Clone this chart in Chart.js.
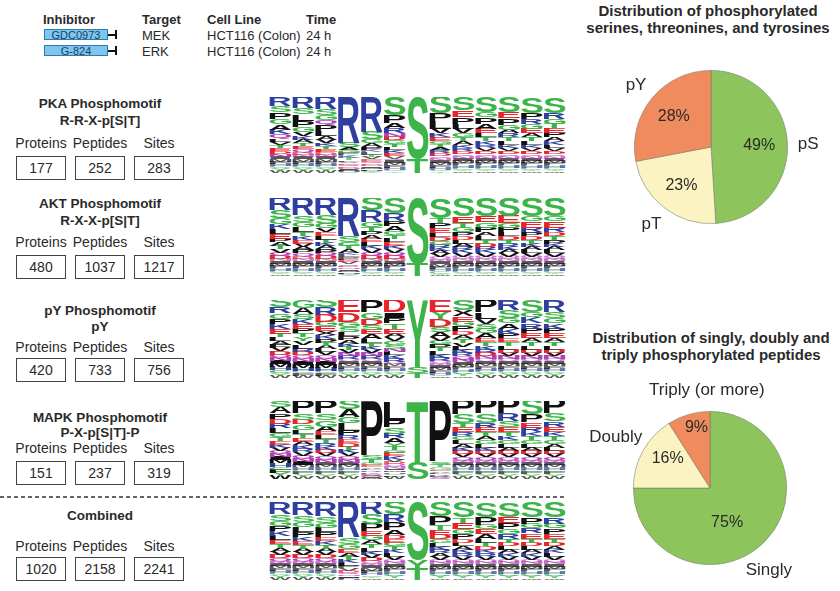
<!DOCTYPE html>
<html>
<head>
<meta charset="utf-8">
<script src="https://cdn.jsdelivr.net/npm/chart.js@4.4.1/dist/chart.umd.min.js"></script>
<style>
body { margin:0; background:#fff; font-family:"Liberation Sans", Arial, sans-serif; color:#2a2a2a; }
#page { position:relative; width:840px; height:591px; overflow:hidden; }
.t { position:absolute; white-space:nowrap; line-height:1; }
.b { font-weight:bold; }
.c { transform:translate(-50%,-50%); }
.l { transform:translate(0,-50%); }
.box { position:absolute; border:1.3px solid #444; box-sizing:border-box; height:24px; font-size:14px; text-align:center; line-height:22px; }
.inh { position:absolute; left:44px; width:64px; height:11px; background:#7ec6ee; border:1px solid #2a7ab5; box-sizing:border-box; font-size:11px; line-height:10px; text-align:center; color:#1f3f5f; }
canvas { position:absolute; }
</style>
</head>
<body>
<div id="page"></div>
<script>
// header table
const inhibitors = ['GDC0973', 'G-824'];
const targets = ['MEK', 'ERK'];
const cellLines = ['HCT116 (Colon)', 'HCT116 (Colon)'];
const times = ['24 h', '24 h'];

// motif panels
const motifNames = ['PKA Phosphomotif', 'AKT Phosphomotif', 'pY Phosphomotif', 'MAPK Phosphomotif', 'Combined'];
const motifPatterns = ['R-R-X-p[S|T]', 'R-X-X-p[S|T]', 'pY', 'P-X-p[S|T]-P', ''];
const proteins = [177, 480, 420, 151, 1020];
const peptides = [252, 1037, 733, 237, 2158];
const sites = [283, 1217, 756, 319, 2241];

// pies
const residueLabels = ['pS', 'pT', 'pY'];
const residueShare = [49, 23, 28];
const multLabels = ['Singly', 'Doubly', 'Triply (or more)'];
const multShare = [75, 16, 9];

// sequence logos, positions -6..+6, letters top to bottom with height in %
const logoPositions = ['-6', '-5', '-4', '-3', '-2', '-1', '0', '+1', '+2', '+3', '+4', '+5', '+6'];
const pkaLogo = [
  'R12 S8 P9 G7 A7 K6 Q6 L4 V4 T4 E4 D4 N4 I3 M3 F3 H3 C3 Y3 W3',
  'R15 S8 L9 P8 G6 V5 K5 A5 T4 E4 Q4 D3 N3 I3 M3 F3 H3 C3 Y3 W3',
  'R16 S8 G7 Q6 P8 L6 A5 V5 K4 T4 E4 D3 N3 I3 M3 F3 H3 C3 Y3 W3',
  'R60 S6 A4 G4 P3 K3 T3 L2 V2 E2 Q2 D2 N2 I1 M1 F1 H1 C1',
  'R46 S10 G5 A5 P4 K3 L3 T3 V3 E3 Q2 D2 N2 I2 M2 F2 H1 C1 Y1',
  'S24 P10 A7 R6 N5 D5 G5 T4 L4 K4 E4 V3 Q3 I3 M3 F3 H3 C2 Y2',
  'S82 T18',
  'S22 P10 L10 V6 K5 E5 G4 T4 A4 R4 D4 Q3 N3 I3 M3 F3 H3 C2 Y2',
  'S18 E8 P9 L7 V6 G5 T5 A5 K4 R4 D4 Q3 N3 I3 M3 F3 H3 C3 Y2 W2',
  'S20 G6 P9 A7 E6 L5 T5 K5 R4 V4 D4 Q3 N3 I3 M3 F3 H3 C3 Y2 W2',
  'S20 E8 P9 G6 A5 R5 T5 L5 K4 V4 D4 Q3 N3 I3 M3 F3 H3 C3 Y2 W2',
  'S21 P8 R7 G6 E6 A5 T5 L5 K4 V4 D4 Q3 N3 I3 M3 F3 H3 C3 Y2 W2',
  'S21 R8 G6 T6 E6 P6 A5 K5 L4 V4 D4 Q3 N3 I3 M3 F3 H3 C3 Y2 W2'
];
const aktLogo = [
  'R16 S10 G8 K6 L6 E6 P5 A5 T4 V4 Q4 D4 N3 I3 M3 F3 H3 C3 Y2 W2',
  'R22 S9 G6 L7 T5 K5 E5 V4 A4 P4 Q4 D3 N3 I3 M3 F3 H3 C3 Y2 W2',
  'R22 S11 G6 V5 E5 L5 T4 K4 A4 P4 Q4 D4 N3 I3 M3 F3 H3 C3 Y2 W2',
  'R49 S8 G5 T4 A4 K3 L3 P3 E3 V3 Q2 D2 N2 I2 M2 F2 H1 C1 Y1',
  'S16 R15 G6 T5 P5 A5 E5 L5 K4 V4 Q4 D4 N3 I3 M3 F3 H3 C3 Y2 W2',
  'S20 R10 P6 A6 G5 T5 L5 E5 K4 V4 Q4 D4 N3 I3 M3 F3 H3 C3 Y2 W2',
  'S84 T16',
  'S26 T6 P7 E6 L5 D5 G5 R4 K4 A4 V4 Q3 N3 I3 M3 F3 H3 C3 Y2 W1',
  'S24 E8 T6 G6 P5 D5 L5 A4 R4 K4 V4 Q3 N3 I3 M3 F3 H3 C3 Y2 W2',
  'S23 E8 G7 P6 A5 L5 T5 D4 R4 K4 V4 Q3 N3 I3 M3 F3 H3 C3 Y2 W2',
  'S23 E9 G6 P6 L5 D5 T5 R4 K4 A4 V4 Q3 N3 I3 M3 F3 H3 C3 Y2 W2',
  'S23 G7 E8 R6 P5 D5 T5 K4 A4 L4 V4 Q3 N3 I3 M3 F3 H3 C3 Y2 W2',
  'S23 G7 E8 R6 D5 T5 P5 K4 A4 L4 V4 Q3 N3 I3 M3 F3 H3 C3 Y2 W2'
];
const pyLogo = [
  'S13 R8 G7 P7 K6 E6 T5 L5 A5 F4 V4 D4 Q4 N4 I4 M4 H4 C4 Y3 W3',
  'G10 A8 S7 K6 E6 P6 T5 Y5 V5 L5 R4 D4 Q4 N4 I4 M4 H4 C3 F3 W3',
  'S13 R10 D9 G6 E6 X5 K5 P5 T4 A4 L4 V4 Q4 N4 I4 M4 H4 C3 F3 W3',
  'E16 D12 G7 S6 L5 P5 A5 K4 T4 V4 N4 R4 Q3 I3 M3 F3 H3 C3 Y3 W3',
  'P15 G9 D8 S6 E6 A6 L5 T5 K4 V4 N4 R4 Q3 I3 M3 F3 H3 C3 Y3 W3',
  'D16 I7 P7 T7 E6 A5 V5 G5 S5 N4 L4 K4 R4 Q3 M3 F3 H3 C3 Y3 W3',
  'Y86 S8 T6',
  'E15 Y9 D10 S7 A6 V5 G5 P5 T4 L4 K4 R4 Q3 N3 I3 M3 F3 H3 C2 W2',
  'S13 X8 E7 G6 P6 D5 A5 T5 V5 L4 K4 R4 Q4 N4 I3 M3 F3 H3 C3 Y3 W2',
  'P16 L8 V7 S6 G6 A6 E5 T5 K5 R4 D4 N4 Q3 I3 M3 F3 H3 C3 Y3 W3',
  'R13 S10 G7 A7 K6 P6 E5 T5 L5 D4 V4 N4 Q3 I3 M3 F3 H3 C3 Y3 W3',
  'S15 G7 K8 R7 P6 E6 A5 T5 L5 D4 V4 N4 Q3 I3 M3 F3 H3 C3 Y3 W3',
  'R15 S8 G7 K7 P6 E6 A5 T5 L5 D4 V4 N4 Q3 I3 M3 F3 H3 C3 Y3 W3'
];
const mapkLogo = [
  'S8 A8 P7 D6 R6 L6 G5 T5 E5 K4 V4 Q4 N4 I4 M4 H4 C4 F4 Y4 W4',
  'P16 S8 D6 G7 L5 T5 E5 A5 K5 R4 V4 Q4 N4 I4 M3 H3 C3 F3 Y3 W3',
  'P16 S9 G8 A6 E5 L5 T5 R5 K4 D4 V4 Q4 N4 I3 M3 H3 C3 F3 Y3 W3',
  'S11 A9 G8 L10 P6 R5 E5 D5 T4 K4 V4 Q4 N4 I3 M3 H3 C3 F3 Y3 W3',
  'P70 S5 T4 G3 E3 A2 L2 R2 K2 D2 V1 Q1 N1 I1 M1',
  'L25 P9 S8 R6 A6 Y5 T4 G4 E4 K4 V3 D3 Q3 N3 I2 M2 H2 C2 F2 W3',
  'T78 S22',
  'P78 S4 T3 G3 E2 A2 L2 R2 K1 D1 V1 Q1',
  'P20 S11 T6 E6 R5 G5 L5 A5 K4 D4 V4 Q4 N3 I3 M3 H3 C3 F3 Y3 W3',
  'P19 S12 R6 E6 T5 A5 G5 L5 K4 D4 V4 Q4 N3 I3 M3 H3 C3 F3 Y3 W3',
  'P19 R9 S9 E6 T5 K5 G5 L5 A4 D4 V4 Q4 N3 I3 M3 H3 C3 F3 Y3 W3',
  'S20 P10 E7 R6 K5 T5 G5 L5 A4 D4 V4 Q4 N3 I3 M3 H3 C3 F3 Y3 W3',
  'P19 S10 R7 E7 K5 T5 G5 A5 L4 D4 V4 Q4 N3 I3 M3 H3 C3 F3 Y3 W3'
];
const combinedLogo = [
  'R15 S9 G7 P6 K6 L6 E5 T5 A5 V4 D4 Q4 N3 I3 M3 F3 H3 C3 Y3 W3',
  'R17 S9 G6 L7 P6 K5 E5 T5 A4 V4 D4 Q4 N3 I3 M3 F3 H3 C3 Y3 W3',
  'R18 S9 G6 L6 P6 E5 K5 T5 A4 V4 D4 Q4 N3 I3 M3 F3 H3 C3 Y3 W3',
  'R45 S9 G6 E5 A5 T4 K4 L4 P3 V3 D3 Q2 N2 I2 M1 F1 H1',
  'R18 S13 P9 E6 G6 A5 T5 L5 K4 V4 D4 Q3 N3 I3 M3 F3 H3 C2 Y2 W2',
  'S16 R10 P10 A6 D5 E5 G5 T5 K4 L4 V4 Q3 N3 I3 M3 F3 H3 C3 Y3 W2',
  'S74 Y12 T14',
  'S18 P12 T6 E6 D6 G5 L5 K4 R4 A4 V4 Q3 N3 I3 M3 F3 H3 C3 Y3 W2',
  'S20 T7 E8 G6 P6 D5 L5 A5 K4 R4 V4 Q3 N3 I3 M3 F3 H3 C3 Y3 W2',
  'S19 P10 G6 E6 A6 L5 T5 D5 K4 R4 V4 Q3 N3 I3 M3 F3 H3 C3 Y3 W2',
  'S19 E8 P8 G6 R6 T5 D5 L5 A4 K4 V4 Q3 N3 I3 M3 F3 H3 C3 Y3 W2',
  'S20 P8 G6 R6 E7 T5 D5 L5 A4 K4 V4 Q3 N3 I3 M3 F3 H3 C3 Y3 W2',
  'S20 R8 G6 P7 E6 T5 D5 A5 K4 L4 V4 Q3 N3 I3 M3 F3 H3 C3 Y3 W2'
];

const letterColors = {
  G: '#3cb44a', S: '#3cb44a', T: '#3cb44a', Y: '#3cb44a', C: '#3cb44a',
  K: '#2f3f9f', R: '#2f3f9f', H: '#2f3f9f',
  D: '#e6242b', E: '#e6242b',
  N: '#b23fb5', Q: '#b23fb5'
};
const pieColors = ['#8dc55c', '#fbf4c2', '#f08b5d'];

const page = document.getElementById('page');
function txt(s, x, y, cls, size) {
  const d = document.createElement('div');
  d.className = 't ' + cls;
  d.style.left = x + 'px';
  d.style.top = y + 'px';
  d.style.fontSize = size + 'px';
  d.textContent = s;
  page.appendChild(d);
  return d;
}

// header
txt('Inhibitor', 43, 19, 'b l', 13);
txt('Target', 142, 19, 'b l', 13);
txt('Cell Line', 207, 19, 'b l', 13);
txt('Time', 306, 19, 'b l', 13);
inhibitors.forEach((name, i) => {
  const y = 35 + i * 16;
  const b = document.createElement('div');
  b.className = 'inh';
  b.style.top = (y - 6) + 'px';
  b.textContent = name;
  page.appendChild(b);
  const ln = document.createElement('div');
  ln.style.cssText = 'position:absolute;left:108px;top:' + (y - 1) + 'px;width:7px;height:1.6px;background:#111';
  page.appendChild(ln);
  const bar = document.createElement('div');
  bar.style.cssText = 'position:absolute;left:115px;top:' + (y - 5) + 'px;width:2px;height:9px;background:#111';
  page.appendChild(bar);
  txt(targets[i], 142, y, 'l', 13);
  txt(cellLines[i], 207, y, 'l', 13);
  txt(times[i], 306, y, 'l', 13);
});

// motif panels
const titleY = [104, 204, 311, 418, 516];
const patternY = [121, 221, 327, 433, 0];
const labelY = [143, 242, 347, 448, 546];
const boxTop = [156, 255, 358, 461, 557];
const boxX = [16, 75, 134];
motifNames.forEach((name, i) => {
  txt(name, 100, titleY[i], 'b c', 13.5);
  if (motifPatterns[i]) txt(motifPatterns[i], 100, patternY[i], 'b c', 13.5);
  ['Proteins', 'Peptides', 'Sites'].forEach((lab, k) => txt(lab, boxX[k] + 25, labelY[i], 'c', 14));
  [proteins[i], peptides[i], sites[i]].forEach((v, k) => {
    const b = document.createElement('div');
    b.className = 'box';
    b.style.left = boxX[k] + 'px';
    b.style.top = boxTop[i] + 'px';
    b.style.width = '50px';
    b.textContent = v;
    page.appendChild(b);
  });
});
const dash = document.createElement('div');
dash.style.cssText = 'position:absolute;left:0;top:496px;width:566px;height:1.5px;background:repeating-linear-gradient(to right,#666 0 4px,transparent 4px 7px)';
page.appendChild(dash);

// pie titles
txt('Distribution of phosphorylated', 708, 10, 'b c', 15);
txt('serines, threonines, and tyrosines', 708, 27, 'b c', 15);
txt('Distribution of singly, doubly and', 711, 337, 'b c', 15);
txt('triply phosphorylated peptides', 711, 354, 'b c', 15);

function addCanvas(x, y, w, h) {
  const c = document.createElement('canvas');
  c.width = w; c.height = h;
  c.style.left = x + 'px'; c.style.top = y + 'px';
  c.style.width = w + 'px'; c.style.height = h + 'px';
  page.appendChild(c);
  return c;
}

// letter glyph stretched into each stacked bar
const glyphCache = {};
function glyph(ctx, ch) {
  if (!glyphCache[ch]) {
    ctx.font = 'bold 100px "Liberation Sans", Arial, sans-serif';
    const m = ctx.measureText(ch);
    glyphCache[ch] = { l: m.actualBoundingBoxLeft, r: m.actualBoundingBoxRight, a: m.actualBoundingBoxAscent, d: m.actualBoundingBoxDescent };
  }
  return glyphCache[ch];
}
const logoLetters = {
  id: 'logoLetters',
  afterDatasetsDraw(chart) {
    const ctx = chart.ctx;
    chart.data.datasets.forEach((ds, i) => {
      chart.getDatasetMeta(i).data.forEach((bar, j) => {
        const ch = ds.letters[j];
        if (!ch) return;
        const p = bar.getProps(['x', 'y', 'base', 'width'], true);
        const top = Math.min(p.y, p.base), h = Math.abs(p.base - p.y);
        if (h < 0.3) return;
        ctx.save();
        const g = glyph(ctx, ch);
        const sx = p.width / (g.l + g.r), sy = h / (g.a + g.d);
        ctx.font = 'bold 100px "Liberation Sans", Arial, sans-serif';
        ctx.fillStyle = letterColors[ch] || '#111';
        // tiny letters look washed out in the original
        if (h < 2.6) ctx.globalAlpha = 0.7;
        ctx.textAlign = 'left';
        ctx.textBaseline = 'alphabetic';
        ctx.translate(p.x - p.width / 2 + g.l * sx, top + g.a * sy);
        ctx.scale(sx, sy);
        ctx.fillText(ch, 0, 0);
        ctx.restore();
      });
    });
  }
};

function makeLogo(cols, top, height) {
  const parsed = cols.map(s => s.split(' ').map(t => [t[0], parseFloat(t.slice(1))]).reverse());
  const depth = Math.max(...parsed.map(c => c.length));
  const datasets = [];
  for (let k = 0; k < depth; k++) {
    datasets.push({
      data: parsed.map(c => c[k] ? c[k][1] : 0),
      letters: parsed.map(c => c[k] ? c[k][0] : null),
      backgroundColor: 'rgba(0,0,0,0)',
      borderWidth: 0,
      barPercentage: 0.95,
      categoryPercentage: 1
    });
  }
  const c = addCanvas(269, top, 297, height);
  new Chart(c.getContext('2d'), {
    type: 'bar',
    data: { labels: logoPositions, datasets: datasets },
    options: {
      responsive: false,
      animation: false,
      layout: { padding: 0 },
      plugins: { legend: { display: false }, tooltip: { enabled: false } },
      scales: {
        x: { stacked: true, display: false },
        y: { stacked: true, display: false, min: 0, max: 100 }
      }
    },
    plugins: [logoLetters]
  });
}
makeLogo(pkaLogo, 97, 76);
makeLogo(aktLogo, 198, 78);
makeLogo(pyLogo, 300, 78);
makeLogo(mapkLogo, 401, 78);
makeLogo(combinedLogo, 502, 78);

// pie labels
const pieLabels = {
  id: 'pieLabels',
  afterDatasetsDraw(chart, args, opts) {
    const ctx = chart.ctx;
    const ds = chart.data.datasets[0];
    chart.getDatasetMeta(0).data.forEach((arc, i) => {
      const p = arc.getProps(['x', 'y', 'startAngle', 'endAngle', 'outerRadius'], true);
      const mid = (p.startAngle + p.endAngle) / 2;
      const a = opts.inner[i], b = opts.outer[i];
      ctx.save();
      ctx.fillStyle = '#2a2a2a';
      ctx.textAlign = 'center';
      ctx.textBaseline = 'middle';
      ctx.font = '16px "Liberation Sans", Arial, sans-serif';
      ctx.fillText(ds.data[i] + '%', p.x + Math.cos(mid) * p.outerRadius * 0.63 + a[0], p.y + Math.sin(mid) * p.outerRadius * 0.63 + a[1]);
      ctx.font = '17px "Liberation Sans", Arial, sans-serif';
      ctx.fillText(chart.data.labels[i], p.x + Math.cos(mid) * p.outerRadius * 1.27 + b[0], p.y + Math.sin(mid) * p.outerRadius * 1.27 + b[1]);
      ctx.restore();
    });
  }
};

function makePie(labels, values, x, y, inner, outer) {
  const c = addCanvas(x, y, 260, 260);
  new Chart(c.getContext('2d'), {
    type: 'pie',
    data: {
      labels: labels,
      datasets: [{ data: values, backgroundColor: pieColors, borderColor: 'rgba(120,120,110,0.7)', borderWidth: 0.8 }]
    },
    options: {
      responsive: false,
      animation: false,
      layout: { padding: 53 },
      plugins: {
        legend: { display: false },
        tooltip: { enabled: false },
        pieLabels: { inner: inner, outer: outer }
      }
    },
    plugins: [pieLabels]
  });
}
makePie(residueLabels, residueShare, 581, 17, [[0, 0], [0, 0], [0, 0]], [[0, 0], [0, 0], [0, 0]]);
makePie(multLabels, multShare, 580, 358, [[-17, 0], [0, -6], [0, -14]], [[-10, 14], [-9, -4], [24, -4]]);
</script>
</body>
</html>
